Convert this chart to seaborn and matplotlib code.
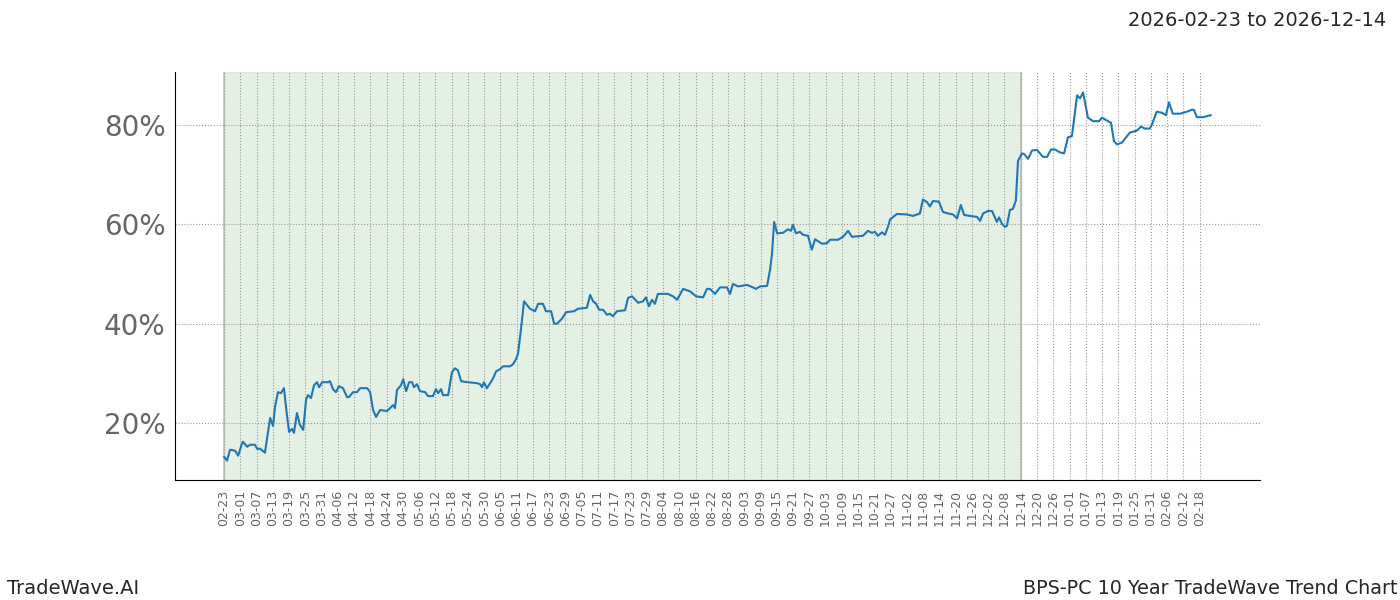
import matplotlib
matplotlib.use("Agg")
import matplotlib.pyplot as plt
import seaborn as sns
import pandas as pd
import numpy as np
from matplotlib.ticker import FuncFormatter

start = "2026-02-23"
shade_end = "2026-12-14"
days = [0,1.1,2.2,4.1,5.2,6.6,7.0,8.5,9.6,11.4,12.2,13.3,15.1,17.0,18.1,18.8,19.9,21.0,22.1,23.2,24.0,25.1,25.8,26.9,28.0,29.2,30.3,31.0,32.1,33.2,34.3,35.1,36.2,38.4,39.1,40.2,41.3,42.4,43.9,45.4,46.1,47.6,49.1,50.2,52.8,53.9,55.0,56.1,57.6,60.1,61.3,62.4,63.1,63.8,65.3,66.1,67.2,68.3,69.4,70.1,71.2,72.3,74.2,75.3,77.1,78.2,79.0,80.1,80.8,82.7,84.1,85.2,86.3,87.5,90.0,93.4,94.5,95.2,95.9,97.0,98.2,99.3,100.4,101.8,102.9,105.5,106.6,107.7,108.5,109.6,110.7,112.9,114.8,115.9,117.7,118.8,120.7,121.8,122.9,124.7,126.2,129.2,130.6,133.9,135.1,136.2,137.3,138.4,139.9,141.3,142.4,143.5,145.0,148.0,149.1,150.6,152.8,154.6,155.7,156.8,157.9,159.0,160.1,163.8,165.7,167.2,169.4,172.0,174.2,176.8,178.2,179.3,181.2,183.0,185.6,186.7,187.8,189.7,193.0,194.8,196.3,197.8,200.4,201.5,202.2,203.0,204.1,206.3,208.1,209.2,209.9,211.1,212.5,213.7,215.5,216.9,218.1,220.7,222.5,223.6,226.6,228.4,230.3,231.7,235.8,237.6,239.1,240.2,241.3,242.8,243.9,245.0,245.8,248.3,252.0,254.2,255.7,256.8,257.9,259.4,260.5,261.6,263.8,265.3,267.2,269.0,270.5,271.9,273.1,275.3,277.9,279.0,280.1,281.9,283.4,285.2,286.0,287.1,288.2,288.9,290.0,291.1,292.2,293.0,294.5,295.2,296.7,298.2,300.0,302.2,303.7,305.2,306.6,308.5,310.0,311.4,312.9,314.8,315.9,317.0,318.8,320.7,322.9,324.0,326.2,327.3,328.4,329.5,331.4,332.8,334.3,336.9,338.4,339.8,341.6,342.4,344.2,346.1,347.6,348.7,350.1,352.7,355.3,357.2,357.9,359.0,361.2,364.2]
values = [13.2,12.4,14.6,14.4,13.4,15.8,16.2,15.2,15.6,15.6,14.8,14.8,14.0,21.0,19.4,23.2,26.2,26.0,27.0,21.6,18.2,18.8,18.0,22.0,19.6,18.6,24.8,25.6,25.0,27.6,28.2,27.2,28.2,28.2,28.4,26.8,26.2,27.4,27.0,25.2,25.2,26.2,26.2,27.0,27.0,26.2,22.6,21.2,22.6,22.4,23.0,23.6,23.0,26.6,27.6,28.8,26.4,28.2,28.2,27.2,27.8,26.4,26.2,25.4,25.4,26.8,26.0,26.8,25.6,25.6,30.2,31.0,30.6,28.4,28.2,28.0,27.8,27.2,28.2,27.0,28.0,29.0,30.4,30.8,31.4,31.4,31.8,32.8,34.0,39.0,44.5,43.0,42.5,44.0,44.0,42.5,42.5,40.0,40.0,41.0,42.3,42.5,43.0,43.2,45.8,44.5,44.0,42.8,42.8,41.8,42.0,41.5,42.5,42.7,45.2,45.5,44.2,44.5,45.3,43.5,44.8,44.0,46.0,46.0,45.5,44.8,47.0,46.5,45.5,45.3,47.0,47.0,46.0,47.3,47.3,46.0,48.0,47.5,47.8,47.4,47.0,47.5,47.6,50.9,54.0,60.5,58.2,58.3,59.0,58.7,59.9,58.2,58.5,57.9,57.7,54.9,57.0,56.1,56.2,56.9,56.9,57.5,58.7,57.5,57.7,58.7,58.3,58.5,57.7,58.4,57.9,59.5,61.0,62.1,62.0,61.7,62.0,62.2,65.0,64.5,63.6,64.7,64.6,62.5,62.2,62.0,61.2,63.9,61.9,61.7,61.5,60.7,62.2,62.7,62.7,60.5,61.4,60.1,59.5,59.7,62.9,63.1,64.8,72.8,74.3,74.2,73.2,74.9,75.0,73.6,73.6,75.1,75.1,74.5,74.3,77.5,77.8,86.0,85.4,86.6,81.5,80.8,80.8,81.5,80.8,80.5,76.8,76.1,76.5,77.5,78.5,78.9,79.7,79.3,79.3,80.1,82.7,82.5,82.0,84.6,82.3,82.3,82.7,83.1,83.1,81.6,81.6,82.0]

base = pd.Timestamp(start)
df = pd.DataFrame({"date": base + pd.to_timedelta(days, unit="D"), "value": values})

sns.set_style("white")
fig = plt.figure(figsize=(14, 6), dpi=100)
ax = fig.add_axes([0.125, 0.2, 0.775, 0.68])

ax.axvspan(base, pd.Timestamp(shade_end), color="#2e8b2e", alpha=0.12, zorder=0)
ax.axvline(base, color="#aaaaaa", lw=1.5, alpha=0.6)
ax.axvline(pd.Timestamp(shade_end), color="#aaaaaa", lw=1.5, alpha=0.6)
sns.lineplot(data=df, x="date", y="value", ax=ax, color="#1f77b4", lw=1.5)

ticks = [base + pd.Timedelta(days=d) for d in range(0, 361, 6)]
ax.set_xticks(ticks)
ax.set_xticklabels([t.strftime("%m-%d") for t in ticks], rotation=90, fontsize=9, color="#666666")
ax.set_xlim(base + pd.Timedelta(days=-18.1), base + pd.Timedelta(days=382.3))
ax.set_ylim(8.5, 90.7)
ax.set_yticks([20, 40, 60, 80])
ax.yaxis.set_major_formatter(FuncFormatter(lambda v, p: f"{v:.0f}%"))
ax.tick_params(axis="y", labelsize=20, labelcolor="#666666")
ax.grid(True, axis="both", color="#999999", linestyle=":", lw=0.8)
ax.set_xlabel("")
ax.set_ylabel("")
for s in ["top", "right"]:
    ax.spines[s].set_visible(False)
for s in ["left", "bottom"]:
    ax.spines[s].set_color("black")
    ax.spines[s].set_linewidth(0.8)

fig.text(0.99, 0.965, "2026-02-23 to 2026-12-14", ha="right", va="center", fontsize=14)
fig.text(0.005, 0.02, "TradeWave.AI", ha="left", va="center", fontsize=14)
fig.text(0.998, 0.02, "BPS-PC 10 Year TradeWave Trend Chart", ha="right", va="center", fontsize=13.8)

fig.savefig("out.png", dpi=100)
